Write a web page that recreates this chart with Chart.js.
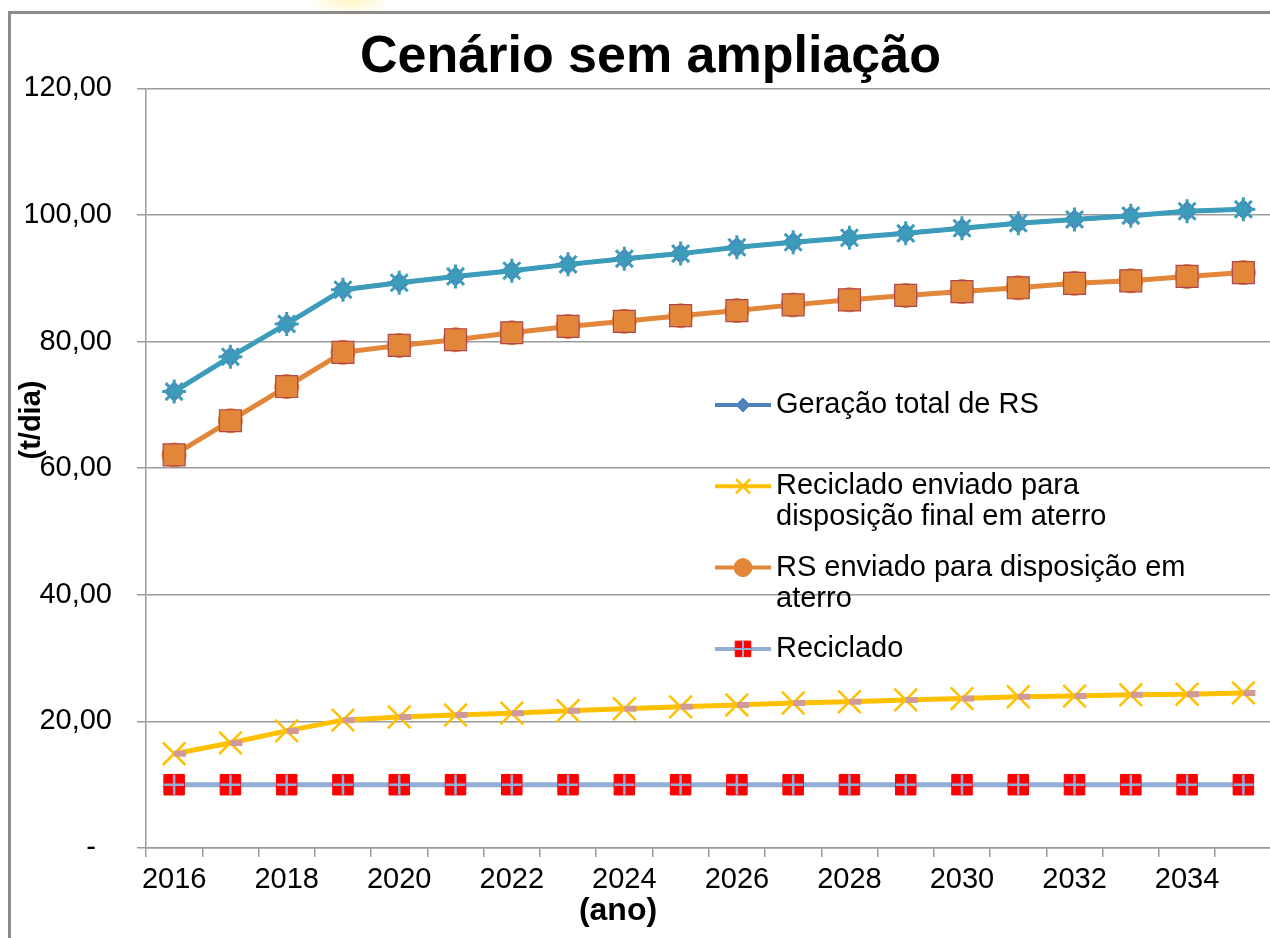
<!DOCTYPE html>
<html>
<head>
<meta charset="utf-8">
<script src="https://cdn.jsdelivr.net/npm/chart.js@4.4.1/dist/chart.umd.min.js"></script>
<style>
html,body{margin:0;padding:0;width:1270px;height:938px;overflow:hidden;background:#fff;}
#glow{position:absolute;left:305px;top:-38px;width:90px;height:56px;background:radial-gradient(ellipse at center, rgba(255,232,110,0.65) 0%, rgba(255,240,160,0.3) 45%, rgba(255,255,255,0) 72%);}
#frame{position:absolute;left:8px;top:11px;width:1400px;height:1000px;border-left:3px solid #8c8c8c;border-top:3px solid #8c8c8c;}
#wrap{position:absolute;left:0;top:0;width:1290px;height:938px;}
</style>
</head>
<body>
<div id="glow"></div>
<div id="frame"></div>
<div id="wrap"><canvas id="c"></canvas></div>
<script>
// ---- data ----
const years = ['2016','2017','2018','2019','2020','2021','2022','2023','2024','2025',
               '2026','2027','2028','2029','2030','2031','2032','2033','2034','2035'];
const shownYears = ['2016','2018','2020','2022','2024','2026','2028','2030','2032','2034'];
const geracao = [72.1, 77.6, 82.8, 88.2, 89.3, 90.3, 91.2, 92.2, 93.1, 93.9,
                 94.9, 95.7, 96.4, 97.1, 97.9, 98.7, 99.3, 99.9, 100.6, 100.9];
const recicladoAterro = [14.9, 16.6, 18.5, 20.2, 20.7, 21.0, 21.3, 21.7, 22.0, 22.3,
                         22.6, 22.9, 23.1, 23.4, 23.6, 23.9, 24.0, 24.2, 24.3, 24.5];
const rsAterro = [62.1, 67.5, 72.9, 78.3, 79.4, 80.3, 81.4, 82.4, 83.2, 84.1,
                  84.9, 85.8, 86.6, 87.3, 87.9, 88.5, 89.2, 89.6, 90.3, 90.9];
const reciclado = [10.0, 10.0, 10.0, 10.0, 10.0, 10.0, 10.0, 10.0, 10.0, 10.0,
                   10.0, 10.0, 10.0, 10.0, 10.0, 10.0, 10.0, 10.0, 10.0, 10.0];
const yTicks = [0, 20, 40, 60, 80, 100, 120];
const seriesNames = ['Geração total de RS',
                     'Reciclado enviado para disposição final em aterro',
                     'RS enviado para disposição em aterro',
                     'Reciclado'];
const legendLines = [['Geração total de RS'],
                     ['Reciclado enviado para', 'disposição final em aterro'],
                     ['RS enviado para disposição em', 'aterro'],
                     ['Reciclado']];
const chartTitle = 'Cenário sem ampliação';
const yTitle = '(t/dia)';
const xTitle = '(ano)';

// ---- styles ----
const FAM = "'Liberation Sans', Arial, sans-serif";
const C_BLUE = '#4F81BD', C_TEAL = '#3C9DBA', C_YEL = '#FFC000', C_PINK = '#CF9A98',
      C_ORG = '#E2873A', C_ORGB = '#B0464E', C_LAV = '#92AED6', C_RED = '#FF0000';
const GRID = '#9b9b9b';

const legendPlugin = {
  id: 'customLegend',
  afterDraw(chart) {
    const ctx = chart.ctx;
    const styles = [
      {line: C_BLUE, fill: C_BLUE, stroke: C_BLUE, ps: 'rectRot', r: 7, bw: 1},
      {line: C_YEL, fill: C_YEL, stroke: C_YEL, ps: 'crossRot', r: 10, bw: 2.5},
      {line: C_ORG, fill: C_ORG, stroke: C_ORG, ps: 'circle', r: 9, bw: 1},
      {line: C_LAV, fill: C_RED, stroke: C_RED, ps: 'rect', r: 11, bw: 1, cross: true}
    ];
    const x0 = 715, x1 = 771, xm = 743, xt = 776;
    let y = 405;
    ctx.save();
    legendLines.forEach((lines, i) => {
      const s = styles[i];
      ctx.lineCap = 'butt';
      ctx.strokeStyle = s.line; ctx.lineWidth = 4;
      ctx.beginPath(); ctx.moveTo(x0, y); ctx.lineTo(x1, y); ctx.stroke();
      ctx.fillStyle = s.fill; ctx.strokeStyle = s.stroke; ctx.lineWidth = s.bw;
      Chart.helpers.drawPoint(ctx, {pointStyle: s.ps, radius: s.r, rotation: 0, borderWidth: s.bw}, xm, y);
      if (s.cross) {
        ctx.strokeStyle = C_LAV; ctx.lineWidth = 2;
        ctx.beginPath(); ctx.moveTo(xm - 8, y); ctx.lineTo(xm + 8, y);
        ctx.moveTo(xm, y - 8); ctx.lineTo(xm, y + 8); ctx.stroke();
      }
      ctx.fillStyle = '#000';
      ctx.font = '29px ' + FAM;
      ctx.textAlign = 'left'; ctx.textBaseline = 'middle';
      lines.forEach((t, k) => ctx.fillText(t, xt, y + k * 31));
      y += 81.3;
    });
    ctx.restore();
  }
};

const axisTitlePlugin = {
  id: 'axisTitles',
  afterDraw(chart) {
    const ctx = chart.ctx;
    ctx.save();
    ctx.fillStyle = '#000';
    ctx.font = 'bold 29px ' + FAM;
    ctx.textAlign = 'center'; ctx.textBaseline = 'middle';
    ctx.translate(32, 420);
    ctx.rotate(-Math.PI / 2);
    ctx.fillText(yTitle, 0, 0);
    ctx.restore();
    ctx.save();
    ctx.fillStyle = '#000';
    ctx.font = 'bold 32px ' + FAM;
    ctx.textAlign = 'center'; ctx.textBaseline = 'middle';
    ctx.fillText(xTitle, 618, 911);
    ctx.restore();
  }
};

new Chart(document.getElementById('c'), {
  type: 'line',
  data: {
    labels: years,
    datasets: [
      {label: seriesNames[0], data: geracao, borderColor: C_BLUE, backgroundColor: C_BLUE,
       borderWidth: 4, pointStyle: 'rectRot', pointRadius: 10, pointBackgroundColor: C_BLUE,
       pointBorderColor: C_BLUE, pointBorderWidth: 1, order: 9},
      {label: '', data: geracao, borderColor: C_TEAL, backgroundColor: C_TEAL,
       borderWidth: 5, pointStyle: 'star', pointRadius: 12, pointBackgroundColor: C_TEAL,
       pointBorderColor: C_TEAL, pointBorderWidth: 3, order: 8},
      {label: seriesNames[1], data: recicladoAterro, borderColor: C_YEL, backgroundColor: C_YEL,
       borderWidth: 5, pointStyle: 'crossRot', pointRadius: 16, pointBorderColor: C_YEL,
       pointBorderWidth: 2.5, order: 7},
      {label: '', data: recicladoAterro, showLine: false, borderColor: C_PINK, backgroundColor: C_PINK,
       pointStyle: 'dash', pointRadius: 12, pointBorderColor: C_PINK, pointBorderWidth: 6, order: 6},
      {label: seriesNames[2], data: rsAterro, borderColor: C_ORG, backgroundColor: C_ORG,
       borderWidth: 5, pointStyle: 'circle', pointRadius: 10, pointBackgroundColor: C_ORG,
       pointBorderColor: C_ORG, order: 5},
      {label: '', data: rsAterro, showLine: false, borderColor: C_ORGB, backgroundColor: C_ORG,
       pointStyle: 'rect', pointRadius: 15.5, pointBackgroundColor: C_ORG,
       pointBorderColor: C_ORGB, pointBorderWidth: 1.2, order: 4},
      {label: seriesNames[3], data: reciclado, borderColor: C_LAV, backgroundColor: C_RED,
       borderWidth: 5, pointStyle: 'rect', pointRadius: 14.5, pointBackgroundColor: C_RED,
       pointBorderColor: C_RED, pointBorderWidth: 1, order: 3},
      {label: '', data: reciclado, showLine: false, borderColor: C_LAV, backgroundColor: C_LAV,
       pointStyle: 'cross', pointRadius: 10, pointBorderColor: C_LAV, pointBorderWidth: 2.5, order: 2}
    ]
  },
  options: {
    responsive: true,
    maintainAspectRatio: false,
    animation: false,
    events: [],
    elements: {line: {tension: 0}},
    layout: {padding: {left: 26, right: 15, top: 5, bottom: 0}},
    plugins: {
      legend: {display: false},
      tooltip: {enabled: false},
      title: {display: true, text: chartTitle, color: '#000',
              font: {size: 52, weight: 'bold', family: FAM}, padding: {top: 21, bottom: 0}}
    },
    scales: {
      x: {
        type: 'category', offset: true,
        grid: {display: true, drawOnChartArea: false, drawTicks: true, tickLength: 9,
               offset: true, color: GRID, lineWidth: 1.5},
        border: {display: true, color: GRID, width: 1.5},
        ticks: {autoSkip: false, maxRotation: 0, minRotation: 0, padding: 6, color: '#000',
                font: {size: 29, family: FAM},
                callback: function(v) { const l = this.getLabelForValue(v); return shownYears.includes(l) ? l : ''; }},
        afterFit(s) { s.height = 90; }
      },
      y: {
        min: 0, max: 120,
        afterBuildTicks(s) { s.ticks = yTicks.map(v => ({value: v})); },
        grid: {color: GRID, lineWidth: 1.5, tickLength: 9},
        border: {display: true, color: GRID, width: 1.5},
        ticks: {padding: 25, color: '#000', font: {size: 29, family: FAM},
                callback: v => v === 0 ? '-  ' : v.toFixed(2).replace('.', ',')},
        afterFit(s) { s.width = 120; }
      }
    }
  },
  plugins: [legendPlugin, axisTitlePlugin]
});
</script>
</body>
</html>
